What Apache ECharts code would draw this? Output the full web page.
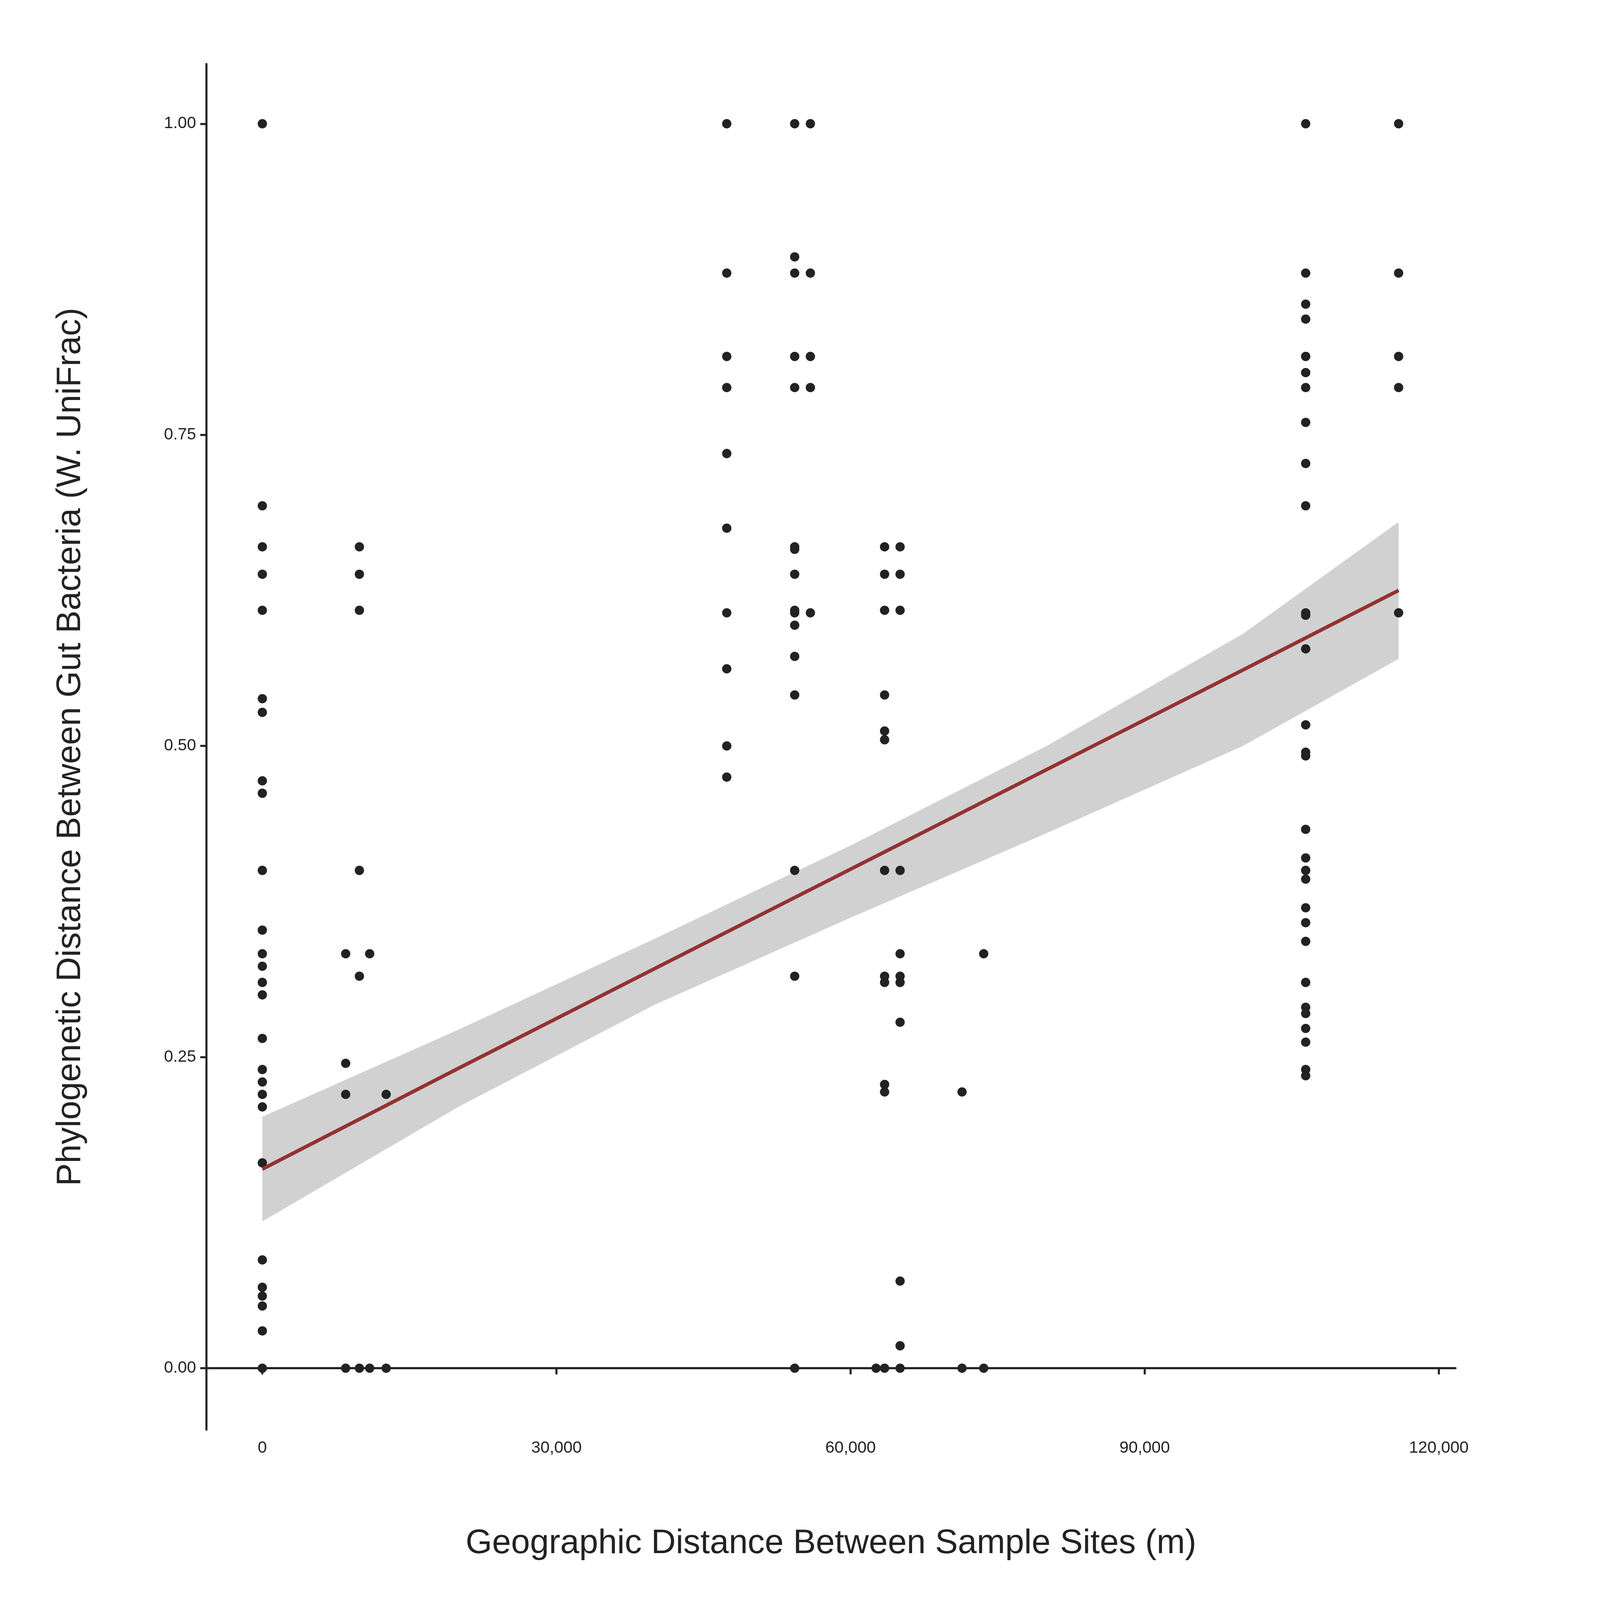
<!DOCTYPE html>
<html>
<head>
<meta charset="utf-8">
<script src="https://cdn.jsdelivr.net/npm/echarts@6/dist/echarts.min.js"></script>
<style>html,body{margin:0;padding:0;background:#fff;overflow:hidden}#chart{width:100vw;height:100vh}</style>
</head>
<body>
<div id="chart"></div>
<script>
// data: site distance (m) -> list of distances
var siteX = [0, 8500, 9900, 10950, 12630, 47370, 54300, 55900, 62600, 63470, 65050, 71370, 73580, 106420, 115900];
var siteY = [
  [1.0, 0.693, 0.66, 0.638, 0.609, 0.538, 0.527, 0.472, 0.462, 0.40, 0.352, 0.333, 0.323, 0.31, 0.30, 0.265, 0.24, 0.23, 0.22, 0.21, 0.165, 0.087, 0.065, 0.058, 0.05, 0.03, 0.0],
  [0.333, 0.245, 0.22, 0.0],
  [0.66, 0.638, 0.609, 0.40, 0.315, 0.0],
  [0.333, 0.0],
  [0.22, 0.0],
  [1.0, 0.88, 0.813, 0.788, 0.735, 0.675, 0.607, 0.562, 0.50, 0.475],
  [1.0, 0.893, 0.88, 0.813, 0.788, 0.66, 0.658, 0.638, 0.609, 0.607, 0.597, 0.572, 0.541, 0.40, 0.315, 0.0],
  [1.0, 0.88, 0.813, 0.788, 0.607],
  [0.0],
  [0.66, 0.638, 0.609, 0.541, 0.512, 0.505, 0.40, 0.315, 0.31, 0.228, 0.222, 0.0],
  [0.66, 0.638, 0.609, 0.40, 0.333, 0.315, 0.31, 0.278, 0.07, 0.018, 0.0],
  [0.222, 0.0],
  [0.333, 0.0],
  [1.0, 0.88, 0.855, 0.843, 0.813, 0.80, 0.788, 0.76, 0.727, 0.693, 0.607, 0.605, 0.578, 0.517, 0.495, 0.492, 0.433, 0.41, 0.40, 0.393, 0.37, 0.358, 0.343, 0.31, 0.29, 0.285, 0.273, 0.262, 0.24, 0.235],
  [1.0, 0.88, 0.813, 0.788, 0.607]
];
// fit line and confidence band
var fitX = [0, 20000, 40000, 60000, 80000, 100000, 115900];
var fitY = [0.16, 0.241, 0.321, 0.401, 0.481, 0.561, 0.625];
var ciLow = [0.118, 0.21, 0.292, 0.362, 0.43, 0.50, 0.57];
var ciHigh = [0.202, 0.272, 0.345, 0.42, 0.50, 0.59, 0.68];
var xTicks = [0, 30000, 60000, 90000, 120000];
var yTicks = [0, 0.25, 0.5, 0.75, 1];

var points = [];
siteX.forEach(function (x, i) {
  siteY[i].forEach(function (y) { points.push([x, y]); });
});
var band = fitX.map(function (x, i) { return [x, ciLow[i], ciHigh[i]]; });

var W = window.innerWidth;
var s = W / 1550; // reference drawn at 1550 px wide
var txt = '#222';
var font = 'Arial, Liberation Sans, sans-serif';
var chart = echarts.init(document.getElementById('chart'));
chart.setOption({
  animation: false,
  grid: { left: 200 * s, right: 140 * s, top: 62 * s, bottom: 165 * s },
  xAxis: {
    type: 'value', min: -5700, max: 121700,
    name: 'Geographic Distance Between Sample Sites (m)',
    nameLocation: 'middle', nameGap: 94 * s,
    nameTextStyle: { fontSize: 33 * s, color: txt, fontFamily: font },
    axisLine: { lineStyle: { color: txt, width: 2 * s } },
    axisTick: { show: true, length: 6 * s, lineStyle: { color: txt, width: 2 * s }, customValues: xTicks },
    axisLabel: { fontSize: 16 * s, color: txt, fontFamily: font, margin: 10 * s, customValues: xTicks,
      formatter: function (v) { return v.toLocaleString('en-US'); } },
    splitLine: { show: false }
  },
  yAxis: {
    type: 'value', min: -0.0494, max: 1.048,
    name: 'Phylogenetic Distance Between Gut Bacteria (W. UniFrac)',
    nameLocation: 'middle', nameGap: 115 * s, nameRotate: 90,
    nameTextStyle: { fontSize: 33 * s, color: txt, fontFamily: font },
    axisLine: { show: true, onZero: false, lineStyle: { color: txt, width: 2 * s } },
    axisTick: { show: true, length: 6 * s, lineStyle: { color: txt, width: 2 * s }, customValues: yTicks },
    axisLabel: { fontSize: 16 * s, color: txt, fontFamily: font, margin: 10 * s, customValues: yTicks,
      formatter: function (v) { return v.toFixed(2); } },
    splitLine: { show: false }
  },
  series: [
    {
      type: 'custom', data: band, silent: true, z: 1,
      renderItem: function (params, api) {
        if (params.dataIndex !== 0) return null;
        var pts = [];
        band.forEach(function (d) { pts.push(api.coord([d[0], d[2]])); });
        for (var i = band.length - 1; i >= 0; i--) pts.push(api.coord([band[i][0], band[i][1]]));
        return { type: 'polygon', shape: { points: pts }, style: { fill: '#d1d1d1' } };
      }
    },
    {
      type: 'scatter', symbolSize: 9 * s, data: points,
      itemStyle: { color: '#222', opacity: 1 }, z: 2
    },
    {
      type: 'line', symbol: 'none',
      data: fitX.map(function (x, i) { return [x, fitY[i]]; }),
      lineStyle: { color: '#943232', width: 3.5 * s }, z: 3
    }
  ]
});
</script>
</body>
</html>
